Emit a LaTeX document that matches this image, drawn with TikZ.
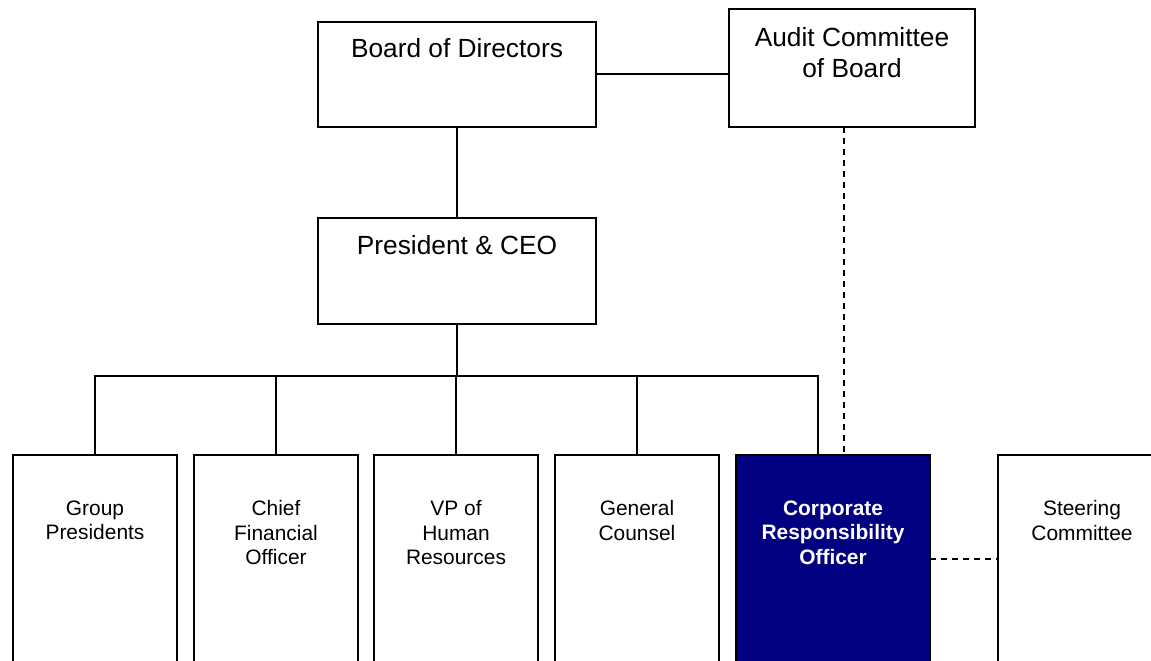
\documentclass[tikz,border=0pt]{standalone}
\usepackage{fontspec}
\setmainfont{Liberation Sans}
\definecolor{navy}{HTML}{000080}
\begin{document}
\begin{tikzpicture}[x=1bp,y=-1bp,
  box/.style={draw=black,line width=2bp,fill=white,rectangle,inner sep=0pt,outer sep=0pt},
  line/.style={draw=black,line width=2bp},
  dline/.style={draw=black,line width=2bp,dash pattern=on 6bp off 5bp},
  toptext/.style={font=\fontsize{26.4}{31}\selectfont,align=center,anchor=north,inner sep=0pt},
  bottext/.style={font=\fontsize{21}{24.5}\selectfont,align=center,anchor=north,inner sep=0pt}]
\useasboundingbox (0,0) rectangle (1151,661);
\clip (0,0) rectangle (1151,661);
% boxes
\node[box,minimum width=278bp,minimum height=105bp] (bod) at (457,74.5) {};
\node[box,minimum width=246bp,minimum height=118bp] (aud) at (852,68) {};
\node[box,minimum width=278bp,minimum height=106bp] (ceo) at (457,271) {};
\node[box,minimum width=164bp,minimum height=208bp] (gp)  at (95,559) {};
\node[box,minimum width=164bp,minimum height=208bp] (cfo) at (276,559) {};
\node[box,minimum width=164bp,minimum height=208bp] (vp)  at (456,559) {};
\node[box,minimum width=164bp,minimum height=208bp] (gc)  at (637,559) {};
\node[box,fill=navy,minimum width=194bp,minimum height=208bp] (cro) at (833,559) {};
\node[box,minimum width=168bp,minimum height=208bp] (sc)  at (1082,559) {};
% texts
\node[toptext] (bodt) at (457,38.5) {Board of Directors};
\node[toptext] (audt) at (852,27.5) {Audit Committee\\of Board};
\node[toptext] (ceot) at (457,235.5) {President \& CEO};
\node[bottext] (gpt)  at (95,500.5) {Group\\Presidents};
\node[bottext] (cfot) at (276,500.5) {Chief\\Financial\\Officer};
\node[bottext] (vpt)  at (456,500.5) {VP of\\Human\\Resources};
\node[bottext] (gct)  at (637,500.5) {General\\Counsel};
\node[bottext,text=white,font=\fontsize{21}{24.5}\selectfont\bfseries] (crot) at (833,500.5) {Corporate\\Responsibility\\Officer};
\node[bottext] (sct)  at (1082,500.5) {Steering\\Committee};
% connectors
\coordinate (bus) at (457,376);
\coordinate (croin) at (818,455);
\coordinate (audout) at (844,127);
\coordinate (bodaud) at (596,74);
\draw[line] (bodaud) -- (aud.west |- bodaud);
\draw[line] (bod.south) -- (ceo.north);
\draw[line] (ceo.south) -- (bus);
\draw[line] (gp.north) -- (gp.north |- bus) -- (croin |- bus) -- (croin);
\draw[line] (cfo.north) -- (cfo.north |- bus);
\draw[line] (vp.north) -- (vp.north |- bus);
\draw[line] (gc.north) -- (gc.north |- bus);
\draw[dline] (audout) -- (audout |- cro.north);
\draw[dline] (cro.east) -- (sc.west);
\end{tikzpicture}
\end{document}
